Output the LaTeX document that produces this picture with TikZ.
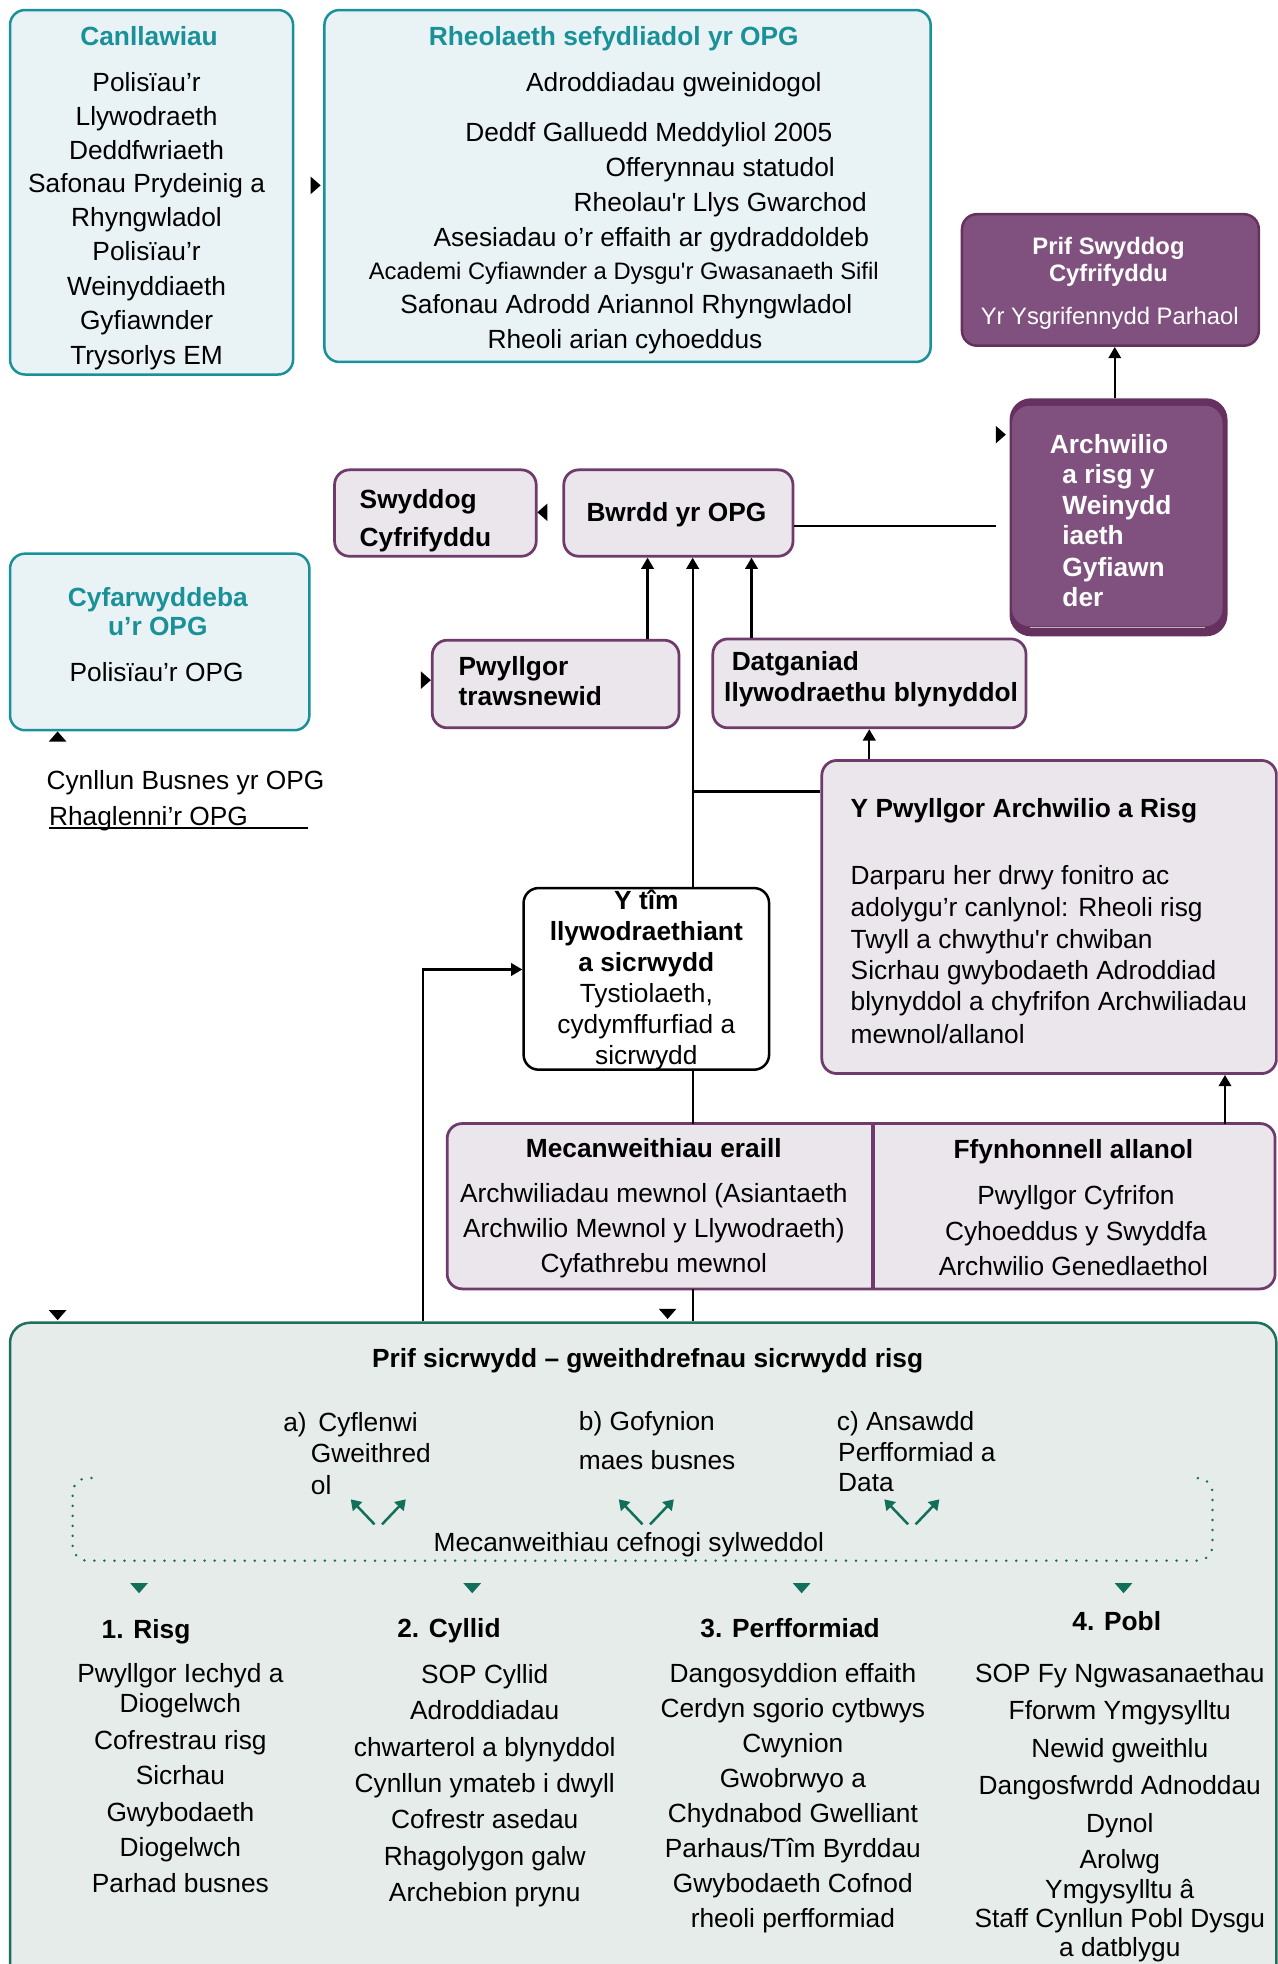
\documentclass[tikz,border=0pt]{standalone}
\usepackage{fontspec}
\setmainfont{Liberation Sans}
\usetikzlibrary{arrows.meta,calc}
\definecolor{teal1}{HTML}{1A9199}
\definecolor{tealfill}{HTML}{E9F2F5}
\definecolor{purp}{HTML}{6E3B6C}
\definecolor{purpfill}{HTML}{EBE6EC}
\definecolor{dpurp}{HTML}{80517E}
\definecolor{dpurpb}{HTML}{66305F}
\definecolor{grn}{HTML}{1E6F5C}
\definecolor{grnfill}{HTML}{E6ECEA}
\definecolor{grnar}{HTML}{12705A}
\begin{document}
\begin{tikzpicture}[x=1pt,y=-1pt,
  font=\fontsize{21pt}{27pt}\selectfont,
  box/.style={rectangle, rounded corners=12pt, anchor=north west, inner sep=0pt, line width=2pt},
  tealbox/.style={box, draw=teal1, fill=tealfill},
  purpbox/.style={box, draw=purp, fill=purpfill, line width=2.2pt},
  darkbox/.style={box, draw=dpurpb, fill=dpurp},
  t/.style={anchor=base, inner sep=0pt},
  tl/.style={anchor=base west, inner sep=0pt},
  bf/.style={font=\fontsize{21pt}{27pt}\selectfont\bfseries},
  sm/.style={font=\fontsize{19pt}{23pt}\selectfont},
  smbf/.style={font=\fontsize{19pt}{23pt}\selectfont\bfseries},
  tealt/.style={text=teal1, bf},
  conn/.style={line width=1.8pt, draw=black},
  arr/.style={conn, -{Triangle[width=10pt,length=9pt]}},
  garr/.style={draw=grnar, line width=2pt, -{Triangle[width=10pt,length=8pt]}},
  tri/.style={fill=black},
  gtri/.style={fill=grnar},
]
\useasboundingbox (0,0) rectangle (1020,1568);
\clip (0,0) rectangle (1020,1568);

% ---------------- boxes ----------------
\node[tealbox, minimum width=226pt, minimum height=291pt] (canll) at (7,7) {};
\node[tealbox, minimum width=484pt, minimum height=281pt] (rheol) at (258,7) {};
\node[darkbox, minimum width=237pt, minimum height=105pt] (prif) at (767,170) {};
\node[box, fill=dpurpb, draw=dpurpb, rounded corners=16pt, minimum width=172pt, minimum height=188pt] (arch) at (806,318) {};
\fill[dpurp, rounded corners=14pt] (808,324) rectangle (976,500);
\draw[white!55!dpurp, line width=0.8pt] (822,501) -- (962,501);
\node[purpbox, minimum width=161pt, minimum height=69pt] (swydd) at (266,374) {};
\node[purpbox, minimum width=183pt, minimum height=69pt] (bwrdd) at (449,374) {};
\node[tealbox, minimum width=239pt, minimum height=141pt] (cyfar) at (7,441) {};
\node[purpbox, minimum width=197pt, minimum height=70pt] (pwyll) at (344,510) {};
\node[purpbox, minimum width=250pt, minimum height=71pt] (datg) at (568,509) {};
\node[purpbox, minimum width=363pt, minimum height=250pt] (ypw) at (655,606) {};
\node[box, draw=black, fill=white, minimum width=196pt, minimum height=145pt] (ytim) at (417,708) {};
\path[fill=purpfill, draw=purp, line width=2.2pt, rounded corners=12pt] (357,897) rectangle (1018,1029);
\draw[purp, line width=3pt] (697,897) -- (697,1029);
\node[anchor=north west, inner sep=0pt, minimum width=340pt, minimum height=132pt] (mec) at (357,897) {};
\node[anchor=north west, inner sep=0pt, minimum width=321pt, minimum height=132pt] (ffy) at (697,897) {};
\node[box, draw=grn, fill=grnfill, rounded corners=16pt, minimum width=1011pt, minimum height=600pt] (grn) at (7,1055) {};

% ---------------- Canllawiau ----------------
\node[t, tealt] (canllT) at (119,36) {Canllawiau};
\foreach \yy/\txt [count=\i] in {73/{Polisïau’r},100/{Llywodraeth},127/{Deddfwriaeth},154/{Safonau Prydeinig a},181/{Rhyngwladol},208/{Polisïau’r},236/{Weinyddiaeth},263/{Gyfiawnder},291/{Trysorlys EM}}
  \node[t] (canll\i) at (117,\yy) {\txt};

% ---------------- Rheolaeth ----------------
\node[t, tealt] (rheolT) at (490,36) {Rheolaeth sefydliadol yr OPG};
\node[t] (rh1) at (538,73) {Adroddiadau gweinidogol};
\node[t] (rh2) at (518,113) {Deddf Galluedd Meddyliol 2005};
\node[t] (rh3) at (575,141) {Offerynnau statudol};
\node[t] (rh4) at (575,169) {Rheolau\textquotesingle r Llys Gwarchod};
\node[t] (rh5) at (520,197) {Asesiadau o’r effaith ar gydraddoldeb};
\node[t, sm] (rh6) at (498,223) {Academi Cyfiawnder a Dysgu\textquotesingle r Gwasanaeth Sifil};
\node[t] (rh7) at (500,250) {Safonau Adrodd Ariannol Rhyngwladol};
\node[t] (rh8) at (499,278) {Rheoli arian cyhoeddus};

% ---------------- Prif Swyddog ----------------
\node[t, smbf, text=white] (prif1) at (885,203) {Prif Swyddog};
\node[t, smbf, text=white] (prif2) at (885,225) {Cyfrifyddu};
\node[t, sm, text=white] (prif3) at (886,259) {Yr Ysgrifennydd Parhaol};

% ---------------- Archwilio ----------------
\node[tl, bf, text=white] (arch1) at (838,362) {Archwilio};
\foreach \yy/\txt [count=\i] in {386/{a risg y},411/{Weinydd},435/{iaeth},460/{Gyfiawn},484/{der}}
  \node[tl, bf, text=white] (archt\i) at (848,\yy) {\txt};

% ---------------- small boxes ----------------
\node[tl, bf] (sw1) at (287,406) {Swyddog};
\node[tl, bf] (sw2) at (287,436) {Cyfrifyddu};
\node[t, bf] (bw1) at (540,416) {Bwrdd yr OPG};
\node[t, tealt] (cy1) at (126,484) {Cyfarwyddeba};
\node[t, tealt] (cy2) at (126,507) {u’r OPG};
\node[t] (cy3) at (125,544) {Polisïau’r OPG};
\node[tl] (cyn1) at (37,630) {Cynllun Busnes yr OPG};
\node[tl] (cyn2) at (39,659) {Rhaglenni’r OPG};
\draw[line width=1.5pt] (39,661) -- (246,661);
\node[tl, bf] (pw1) at (366,539) {Pwyllgor};
\node[tl, bf] (pw2) at (366,563) {trawsnewid};
\node[tl, bf] (dg1) at (584,535) {Datganiad};
\node[tl, bf] (dg2) at (578,560) {llywodraethu blynyddol};

% ---------------- Y Pwyllgor ----------------
\node[tl, bf] (ypT) at (679,653) {Y Pwyllgor Archwilio a Risg};
\foreach \yy/\txt [count=\i] in {706/{Darparu her drwy fonitro ac},732/{adolygu’r canlynol: Rheoli risg},757/{Twyll a chwythu\textquotesingle r chwiban},782/{Sicrhau gwybodaeth Adroddiad},807/{blynyddol a chyfrifon Archwiliadau},833/{mewnol/allanol}}
  \node[tl] (yp\i) at (679,\yy) {\txt};

% ---------------- Y tim ----------------
\node[t, bf] (yt1) at (516,726) {Y tîm};
\node[t, bf] (yt2) at (516,751) {llywodraethiant};
\node[t, bf] (yt3) at (516,776) {a sicrwydd};
\node[t] (yt4) at (516,800) {Tystiolaeth,};
\node[t] (yt5) at (516,825) {cydymffurfiad a};
\node[t] (yt6) at (516,850) {sicrwydd};

% ---------------- Mecanweithiau / Ffynhonnell ----------------
\node[t, bf] (mecT) at (522,924) {Mecanweithiau eraill};
\node[t] (mec1) at (522,960) {Archwiliadau mewnol (Asiantaeth};
\node[t] (mec2) at (522,988) {Archwilio Mewnol y Llywodraeth)};
\node[t] (mec3) at (522,1016) {Cyfathrebu mewnol};
\node[t, bf] (ffyT) at (857,925) {Ffynhonnell allanol};
\node[t] (ffy1) at (859,962) {Pwyllgor Cyfrifon};
\node[t] (ffy2) at (859,990) {Cyhoeddus y Swyddfa};
\node[t] (ffy3) at (857,1018) {Archwilio Genedlaethol};

% ---------------- green box content ----------------
\node[t, bf] (grnT) at (517,1092) {Prif sicrwydd – gweithdrefnau sicrwydd risg};
\node[tl] (ga0) at (226,1143) {a)};
\node[tl] (ga1) at (254,1143) {Cyflenwi};
\node[tl] (ga2) at (248,1168) {Gweithred};
\node[tl] (ga3) at (248,1193) {ol};
\node[tl] (gb1) at (462,1142) {b) Gofynion};
\node[tl] (gb2) at (462,1173) {maes busnes};
\node[tl] (gc1) at (668,1142) {c) Ansawdd};
\node[tl] (gc2) at (669,1167) {Perfformiad a};
\node[tl] (gc3) at (669,1191) {Data};
\node[t] (gmec) at (502,1239) {Mecanweithiau cefnogi sylweddol};
\draw[grnar, line width=2.2pt, line cap=round, dash pattern=on 0pt off 8pt, rounded corners=12pt]
  (73,1180) -- (58,1180) -- (58,1246) -- (968,1246) -- (968,1180) -- (954,1180);
\foreach \cx [count=\i] in {302,516,728}{
  \coordinate (gl\i a) at (\cx-3,1217);
  \coordinate (gl\i b) at (\cx-22,1197);
  \coordinate (gr\i a) at (\cx+3,1217);
  \coordinate (gr\i b) at (\cx+22,1197);
  \draw[garr] (gl\i a) -- (gl\i b);
  \draw[garr] (gr\i a) -- (gr\i b);
}
\foreach \cx in {111,377,640,897}
  \fill[gtri] (\cx-7,1264) -- (\cx+7,1264) -- (\cx,1272) -- cycle;

\node[tl, bf] (h1) at (81,1308) {1. Risg};
\node[tl, bf] (h2) at (317,1307) {2. Cyllid};
\node[tl, bf] (h3) at (559,1307) {3. Perfformiad};
\node[tl, bf] (h4) at (856,1302) {4. Pobl};
\foreach \yy/\txt [count=\i] in {1343/{Pwyllgor Iechyd a},1367/{Diogelwch},1397/{Cofrestrau risg},1425/{Sicrhau},1454/{Gwybodaeth},1482/{Diogelwch},1511/{Parhad busnes}}
  \node[t] (ca\i) at (144,\yy) {\txt};
\foreach \yy/\txt [count=\i] in {1344/{SOP Cyllid},1373/{Adroddiadau},1402/{chwarterol a blynyddol},1431/{Cynllun ymateb i dwyll},1460/{Cofrestr asedau},1489/{Rhagolygon galw},1518/{Archebion prynu}}
  \node[t] (cb\i) at (387,\yy) {\txt};
\foreach \yy/\txt [count=\i] in {1343/{Dangosyddion effaith},1371/{Cerdyn sgorio cytbwys},1399/{Cwynion},1427/{Gwobrwyo a},1455/{Chydnabod Gwelliant},1483/{Parhaus/Tîm Byrddau},1511/{Gwybodaeth Cofnod},1539/{rheoli perfformiad}}
  \node[t] (cc\i) at (633,\yy) {\txt};
\foreach \yy/\txt [count=\i] in {1343/{SOP Fy Ngwasanaethau},1373/{Fforwm Ymgysylltu},1403/{Newid gweithlu},1433/{Dangosfwrdd Adnoddau},1463/{Dynol},1492/{Arolwg},1516/{Ymgysylltu â},1539/{Staff Cynllun Pobl Dysgu},1562/{a datblygu}}
  \node[t] (cd\i) at (894,\yy) {\txt};

% ---------------- connectors ----------------
\coordinate (xa) at (517,0);
\coordinate (xb) at (553,0);
\coordinate (xc) at (600,0);
\coordinate (xd) at (694,0);
\coordinate (xe) at (978,0);
\coordinate (xf) at (338,0);
\coordinate (xg) at (890,0);
\coordinate (yj) at (0,632);
\coordinate (yk) at (0,774);
\coordinate (yl) at (0,420);
\coordinate (archend) at (795,420);

\draw[arr] (pwyll.north -| xa) -- (bwrdd.south -| xa);
\draw[arr] (ytim.north -| xb) -- (bwrdd.south -| xb);
\draw[conn] (xb |- yj) -- (ypw.west |- yj);
\draw[arr] (datg.north -| xc) -- (bwrdd.south -| xc);
\draw[arr] (ypw.north -| xd) -- (datg.south -| xd);
\draw[conn] (ytim.south -| xb) -- (mec.north -| xb);
\draw[conn] (mec.south -| xb) -- (grn.north -| xb);
\draw[arr] (grn.north -| xf) -- (xf |- yk) -- (ytim.west |- yk);
\draw[arr] (ffy.north -| xe) -- (ypw.south -| xe);
\draw[arr] (arch.north -| xg) -- (prif.south -| xg);
\draw[conn] (bwrdd.east |- yl) -- (archend);

% small black triangles (arrow tips without visible lines)
\fill[tri] (248,141) -- (256,148) -- (248,155) -- cycle;
\fill[tri] (437,402) -- (429,409) -- (437,416) -- cycle;
\fill[tri] (39,592) -- (46,584) -- (53,592) -- cycle;
\fill[tri] (336,536) -- (344,543) -- (336,550) -- cycle;
\fill[tri] (795,340) -- (803,347) -- (795,354) -- cycle;
\fill[tri] (39,1046) -- (53,1046) -- (46,1054) -- cycle;
\fill[tri] (526,1045) -- (540,1045) -- (533,1053) -- cycle;
\end{tikzpicture}
\end{document}
